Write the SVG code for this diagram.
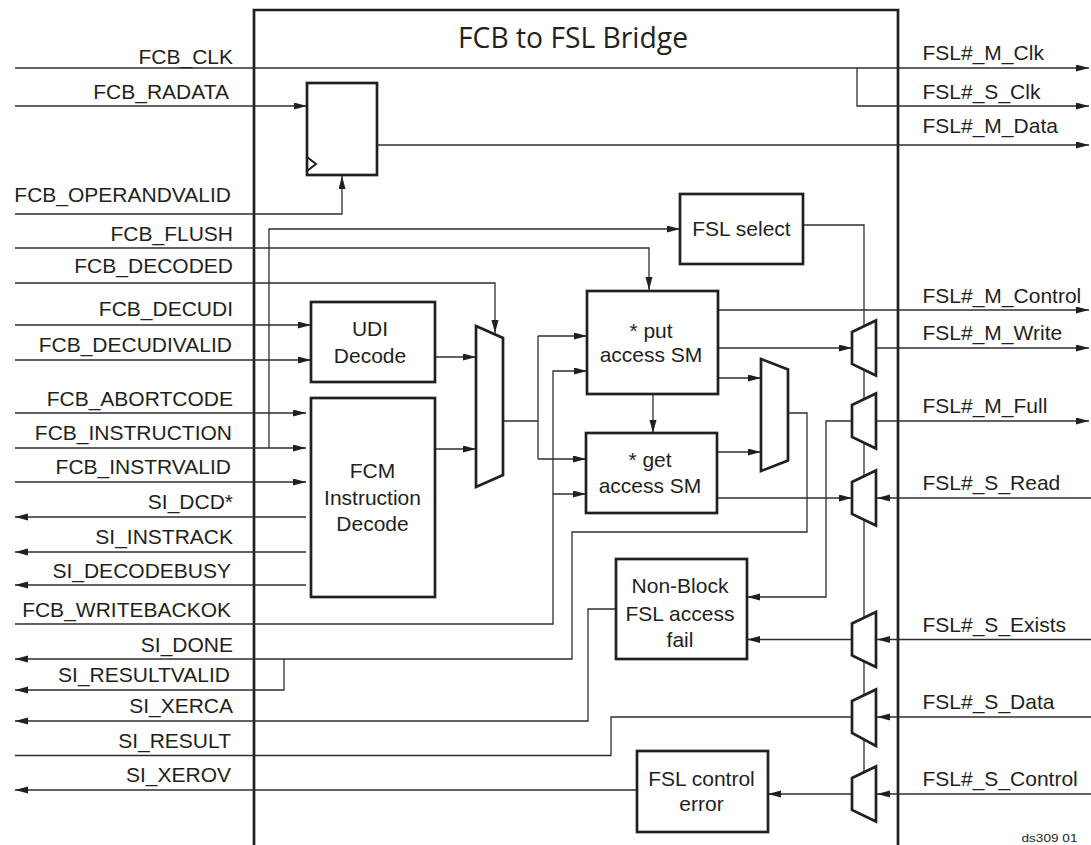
<svg xmlns="http://www.w3.org/2000/svg" width="1091" height="845" viewBox="0 0 1091 845">
<style>
.bx{fill:#fff;stroke:#231f20;stroke-width:2.7}
.mx{fill:#fff;stroke:#231f20;stroke-width:2.7;stroke-linejoin:miter}
.w{fill:none;stroke:#2e2e2e;stroke-width:1.3}
.a{marker-end:url(#arr)}
.t{font-family:"Liberation Sans",Arial,sans-serif;font-size:21px;fill:#231f20}
.l{text-anchor:end}
.c{text-anchor:middle}
</style>
<defs>
<marker id="arr" markerUnits="userSpaceOnUse" markerWidth="14" markerHeight="8" refX="13" refY="3.5" orient="auto">
<path d="M0,0 L13,3.5 L0,7 z" fill="#231f20"/>
</marker>
</defs>
<rect width="1091" height="845" fill="#fff"/>
<path id="bridge" d="M254,850 V10 H898 V850" fill="none" stroke="#231f20" stroke-width="2.7"/>
<text x="573" y="47.5" text-anchor="middle" textLength="230" lengthAdjust="spacingAndGlyphs" style="font-family:'Open Sans','Noto Sans',sans-serif;font-size:28.5px;fill:#231f20">FCB to FSL Bridge</text>

<g id="connectors">
<path class="w a" d="M15,68 H1089"/>
<path class="w a" d="M857,68 V106 H1089"/>
<path class="w a" d="M15,106 H307"/>
<path class="w a" d="M377,145 H1089"/>
<path class="w a" d="M15,214 H342 V176"/>
<path class="w a" d="M15,248 H649 V290"/>
<path class="w a" d="M269,448 V229 H680"/>
<path class="w a" d="M15,283 H495 V333"/>
<path class="w a" d="M15,325 H311"/>
<path class="w a" d="M15,360 H311"/>
<path class="w a" d="M15,413 H306"/>
<path class="w a" d="M15,448 H306"/>
<path class="w a" d="M15,482 H306"/>
<path class="w a" d="M306,517 H15"/>
<path class="w a" d="M306,552 H15"/>
<path class="w a" d="M306,585 H15"/>
<path class="w a" d="M435,357 H476"/>
<path class="w a" d="M435,449 H476"/>
<path class="w" d="M503,421 H538 M538,336 V459"/>
<path class="w a" d="M538,336 H587"/>
<path class="w a" d="M538,459 H586"/>
<path class="w a" d="M15,624 H553 V371 H587"/>
<path class="w a" d="M553,494 H586"/>
<path class="w a" d="M653,394 V433"/>
<path class="w a" d="M718,310 H1089"/>
<path class="w a" d="M718,348 H852"/>
<path class="w a" d="M876,348 H1089"/>
<path class="w a" d="M718,378 H761"/>
<path class="w a" d="M717,452 H761"/>
<path class="w a" d="M788,413 H807 V532 H572 V659 H15"/>
<path class="w a" d="M284,659 V690 H15"/>
<path class="w a" d="M876,421 H1089"/>
<path class="w a" d="M852,421 H826 V597 H747"/>
<path class="w a" d="M717,498 H852"/>
<path class="w a" d="M1091,498 H877"/>
<path class="w" d="M803,225 H864 V772"/>
<path class="w a" d="M1091,639.5 H877"/>
<path class="w a" d="M852,639.5 H747"/>
<path class="w a" d="M616,609 H588 V721 H15"/>
<path class="w a" d="M1091,717 H877"/>
<path class="w" d="M852,717 H611 V755.5 H15"/>
<path class="w a" d="M1091,794 H877"/>
<path class="w a" d="M852,794 H768"/>
<path class="w a" d="M637,790 H15"/>
</g>

<g id="register">
<rect class="bx" x="307" y="83" width="70" height="92"/>
<polyline points="307,157 316,164 307,171" fill="none" stroke="#231f20" stroke-width="2"/>
</g>
<g id="fsl-select">
<rect class="bx" x="680" y="194" width="123" height="70"/>
<text class="t c" x="741.5" y="236">FSL select</text>
</g>
<g id="udi-decode">
<rect class="bx" x="311" y="302" width="124" height="80"/>
<text class="t c" x="370" y="336">UDI</text>
<text class="t c" x="370" y="363">Decode</text>
</g>
<g id="fcm-decode">
<rect class="bx" x="311" y="398" width="124" height="199"/>
<text class="t c" x="372.5" y="478">FCM</text>
<text class="t c" x="372.5" y="505">Instruction</text>
<text class="t c" x="372.5" y="531">Decode</text>
</g>
<g id="mux1"><polygon class="mx" points="476,326 503,338 503,475 476,487"/></g>
<g id="put-sm">
<rect class="bx" x="587" y="291" width="131" height="103"/>
<text class="t c" x="651" y="338">* put</text>
<text class="t c" x="651" y="362">access SM</text>
</g>
<g id="get-sm">
<rect class="bx" x="586" y="433" width="131" height="80"/>
<text class="t c" x="650" y="467">* get</text>
<text class="t c" x="650" y="492.5">access SM</text>
</g>
<g id="mux2"><polygon class="mx" points="761,359 788,369.5 788,460.5 761,471"/></g>
<g id="mux-m-write"><polygon class="mx" points="852,332 876,320.5 876,375.5 852,364"/></g>
<g id="mux-m-full"><polygon class="mx" points="852,405 876,393.5 876,448.5 852,437"/></g>
<g id="mux-s-read"><polygon class="mx" points="852,482 876,470.5 876,525.5 852,514"/></g>
<g id="mux-s-exists"><polygon class="mx" points="852,623.5 876,612 876,667 852,655.5"/></g>
<g id="mux-s-data"><polygon class="mx" points="852,701 876,689.5 876,746 852,733"/></g>
<g id="mux-s-control"><polygon class="mx" points="852,778 876,766.5 876,821.5 852,810"/></g>
<g id="non-block">
<rect class="bx" x="616" y="559" width="131" height="100"/>
<text class="t c" x="680" y="593">Non-Block</text>
<text class="t c" x="680" y="620.5">FSL access</text>
<text class="t c" x="680" y="646.5">fail</text>
</g>
<g id="fsl-control-error">
<rect class="bx" x="637" y="751" width="131" height="81"/>
<text class="t c" x="701.5" y="786">FSL control</text>
<text class="t c" x="701.5" y="811">error</text>
</g>

<g id="left-labels">
<text class="t l" x="233" y="64">FCB_CLK</text>
<text class="t l" x="229" y="99">FCB_RADATA</text>
<text class="t l" x="231" y="202">FCB_OPERANDVALID</text>
<text class="t l" x="233" y="241">FCB_FLUSH</text>
<text class="t l" x="233" y="273">FCB_DECODED</text>
<text class="t l" x="233" y="316">FCB_DECUDI</text>
<text class="t l" x="232" y="352">FCB_DECUDIVALID</text>
<text class="t l" x="233" y="406">FCB_ABORTCODE</text>
<text class="t l" x="232" y="440">FCB_INSTRUCTION</text>
<text class="t l" x="231" y="474">FCB_INSTRVALID</text>
<text class="t l" x="233" y="509">SI_DCD*</text>
<text class="t l" x="233" y="543.5">SI_INSTRACK</text>
<text class="t l" x="231" y="578">SI_DECODEBUSY</text>
<text class="t l" x="231" y="617">FCB_WRITEBACKOK</text>
<text class="t l" x="233" y="652">SI_DONE</text>
<text class="t l" x="230" y="682">SI_RESULTVALID</text>
<text class="t l" x="233" y="713">SI_XERCA</text>
<text class="t l" x="231" y="747.5">SI_RESULT</text>
<text class="t l" x="231" y="782">SI_XEROV</text>
</g>
<g id="right-labels">
<text class="t" x="922.5" y="60">FSL#_M_Clk</text>
<text class="t" x="922.5" y="99">FSL#_S_Clk</text>
<text class="t" x="922.5" y="133">FSL#_M_Data</text>
<text class="t" x="922.5" y="302.5">FSL#_M_Control</text>
<text class="t" x="922.5" y="339.5">FSL#_M_Write</text>
<text class="t" x="922.5" y="413">FSL#_M_Full</text>
<text class="t" x="922.5" y="490">FSL#_S_Read</text>
<text class="t" x="922.5" y="632">FSL#_S_Exists</text>
<text class="t" x="922.5" y="708.5">FSL#_S_Data</text>
<text class="t" x="922.5" y="786">FSL#_S_Control</text>
</g>
<text x="1021.5" y="842" textLength="56" lengthAdjust="spacingAndGlyphs" style="font-family:'Liberation Sans',Arial,sans-serif;font-size:11px;fill:#231f20">ds309 01</text>
</svg>
